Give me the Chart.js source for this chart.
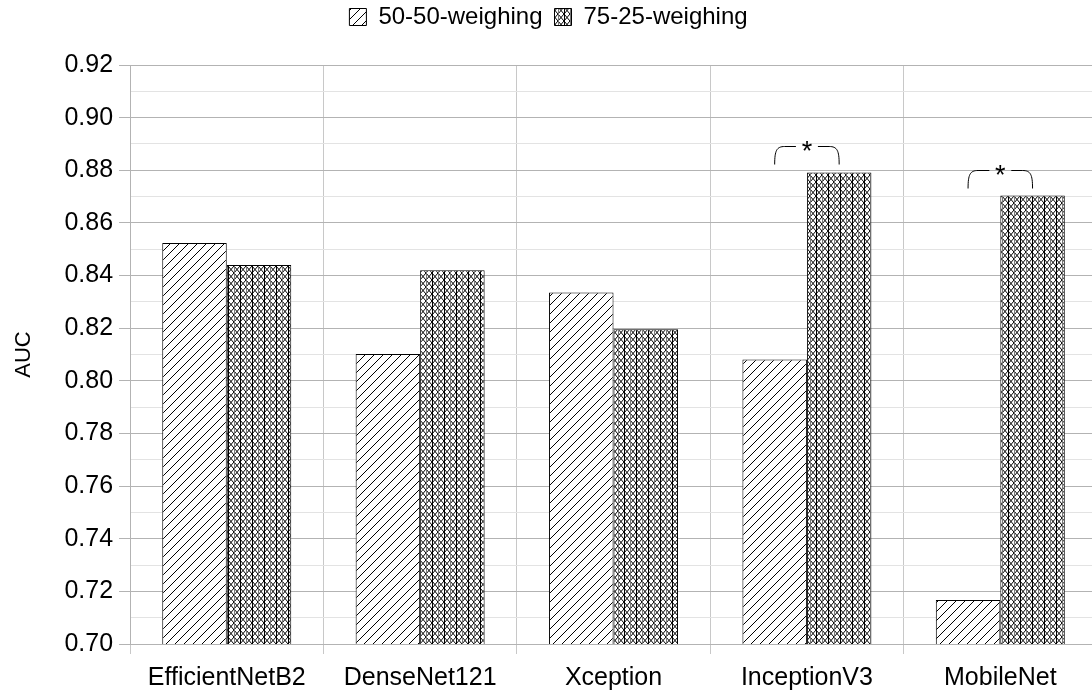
<!DOCTYPE html>
<html>
<head>
<meta charset="utf-8">
<title>AUC by weighing</title>
<script src="https://cdn.jsdelivr.net/npm/chart.js@4.4.1/dist/chart.umd.min.js"></script>
<style>
    html, body { margin: 0; padding: 0; background: #fff; overflow: hidden; }
    #wrap { position: relative; width: 1097px; height: 703px; }
</style>
</head>
<body>
<div id="wrap"><canvas id="aucChart"></canvas></div>
<script>
// Chart data
const categories = ['EfficientNetB2', 'DenseNet121', 'Xception', 'InceptionV3', 'MobileNet'];
const weighing5050 = [0.8524, 0.8102, 0.8336, 0.8081, 0.7167];
const weighing7525 = [0.8440, 0.8420, 0.8196, 0.8792, 0.8704];
const seriesLabels = ['50-50-weighing', '75-25-weighing'];

// Significance brackets (category + level of bracket top)
const sigCategories = ['InceptionV3', 'MobileNet'];
const sigLevels = [0.8893, 0.8800];

const FONT = "'Liberation Sans', Arial, sans-serif";

// Hatch patterns
function diagonalPattern() {
    const c = document.createElement('canvas');
    c.width = 9; c.height = 9;
    const g = c.getContext('2d');
    g.fillStyle = '#fff';
    g.fillRect(0, 0, 9, 9);
    g.strokeStyle = '#000';
    g.lineWidth = 1;
    g.beginPath();
    g.moveTo(-1, 10); g.lineTo(10, -1);
    g.moveTo(-6, 5); g.lineTo(5, -6);
    g.moveTo(4, 14); g.lineTo(14, 4);
    g.stroke();
    return g.createPattern(c, 'repeat');
}

function crossPattern() {
    const c = document.createElement('canvas');
    c.width = 12; c.height = 7;
    const g = c.getContext('2d');
    g.fillStyle = '#fff';
    g.fillRect(0, 0, 12, 7);
    g.strokeStyle = '#000';
    g.lineWidth = 1;
    g.beginPath();
    for (let x0 = -6; x0 <= 12; x0 += 6) {
        g.moveTo(x0, 0); g.lineTo(x0 + 6, 7);
        g.moveTo(x0, 7); g.lineTo(x0 + 6, 0);
    }
    g.stroke();
    g.beginPath();
    g.moveTo(0.5, 0); g.lineTo(0.5, 7);
    g.stroke();
    g.strokeStyle = '#777';
    g.beginPath();
    g.moveTo(6.5, 0); g.lineTo(6.5, 7);
    g.stroke();
    return g.createPattern(c, 'repeat');
}

// Legend: a bit of space under it, and pulled up toward the top edge
const legendSpacer = {
    id: 'legendSpacer',
    beforeInit(chart) {
        const origFit = chart.legend.fit;
        chart.legend.fit = function () {
            origFit.bind(chart.legend)();
            this.height += 19;
        };
    },
    afterLayout(chart) {
        chart.legend.top -= 7;
        chart.legend.bottom -= 7;
    }
};

// Draw the * brackets
const sigBrackets = {
    id: 'sigBrackets',
    afterDatasetsDraw(chart) {
        const ctx = chart.ctx;
        const y = chart.scales.y;
        const m0 = chart.getDatasetMeta(0);
        const m1 = chart.getDatasetMeta(1);
        ctx.save();
        ctx.strokeStyle = '#000';
        ctx.lineWidth = 1;
        sigCategories.forEach((cat, i) => {
            const idx = categories.indexOf(cat);
            const x1 = m0.data[idx].x;
            const x2 = m1.data[idx].x;
            const top = Math.round(y.getPixelForValue(sigLevels[i])) + 0.5;
            const drop = 18;
            const r = 10;
            const mid = (x1 + x2) / 2;
            ctx.beginPath();
            ctx.moveTo(x1, top + drop);
            ctx.bezierCurveTo(x1, top + 4, x1 + 2, top, x1 + r, top);
            ctx.lineTo(mid - 11, top);
            ctx.moveTo(mid + 11, top);
            ctx.lineTo(x2 - r, top);
            ctx.bezierCurveTo(x2 - 2, top, x2, top + 4, x2, top + drop);
            ctx.stroke();
            ctx.fillStyle = '#000';
            ctx.font = '27px ' + FONT;
            ctx.textAlign = 'center';
            ctx.textBaseline = 'alphabetic';
            ctx.fillText('*', mid, top + 13);
        });
        ctx.restore();
    }
};

const isMajor = v => Math.round(v * 100) % 2 === 0;

const ctx = document.getElementById('aucChart').getContext('2d');
const aucChart = new Chart(ctx, {
    type: 'bar',
    data: {
        labels: categories,
        datasets: [{
            label: seriesLabels[0],
            data: weighing5050,
            backgroundColor: diagonalPattern(),
            borderColor: '#000',
            borderWidth: 1,
            borderSkipped: false
        }, {
            label: seriesLabels[1],
            data: weighing7525,
            backgroundColor: crossPattern(),
            borderColor: '#000',
            borderWidth: 1,
            borderSkipped: false
        }]
    },
    options: {
        responsive: true,
        maintainAspectRatio: false,
        animation: false,
        devicePixelRatio: 1,
        categoryPercentage: 0.667,
        barPercentage: 1,
        layout: { padding: { left: 0, right: 0, top: 0, bottom: 1 } },
        plugins: {
            legend: {
                position: 'top',
                labels: {
                    color: '#000',
                    font: { family: FONT, size: 24 },
                    boxWidth: 17,
                    boxHeight: 17,
                    padding: 12
                }
            },
            tooltip: { enabled: false }
        },
        scales: {
            x: {
                grid: {
                    offset: true,
                    color: '#c8c8c8',
                    tickLength: 10,
                    tickColor: '#c8c8c8'
                },
                border: { color: '#b3b3b3' },
                ticks: {
                    color: '#000',
                    font: { family: FONT, size: 25 },
                    padding: 9,
                    maxRotation: 0,
                    autoSkip: false
                }
            },
            y: {
                min: 0.70,
                max: 0.92,
                title: {
                    display: true,
                    text: 'AUC',
                    color: '#000',
                    font: { family: FONT, size: 22 },
                    padding: { top: 11, bottom: 21 }
                },
                grid: {
                    color: c => isMajor(c.tick.value) ? '#b3b3b3' : '#e3e3e3',
                    tickColor: c => isMajor(c.tick.value) ? '#b3b3b3' : 'rgba(0,0,0,0)',
                    tickLength: 11
                },
                border: { color: '#b3b3b3' },
                ticks: {
                    stepSize: 0.01,
                    autoSkip: false,
                    color: '#000',
                    font: { family: FONT, size: 25 },
                    padding: 6,
                    callback: v => isMajor(v) ? v.toFixed(2) : ''
                }
            }
        }
    },
    plugins: [legendSpacer, sigBrackets]
});
</script>
</body>
</html>
